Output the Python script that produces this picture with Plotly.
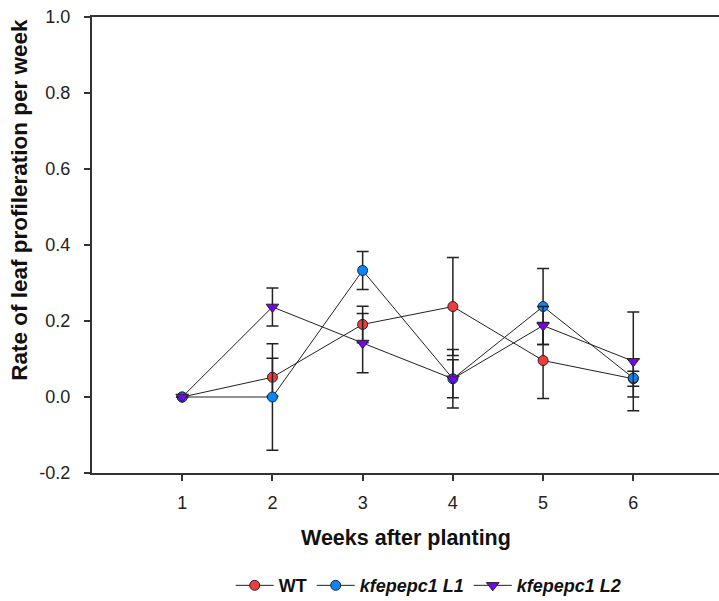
import plotly.graph_objects as go

weeks = [1, 2, 3, 4, 5, 6]
wt = [0.0, 0.052, 0.191, 0.238, 0.096, 0.048]
wt_err = [0.0, 0.05, 0.048, 0.129, 0.10, 0.02]
l1 = [0.0, 0.0, 0.333, 0.048, 0.238, 0.05]
l1_err = [0.0, 0.14, 0.05, 0.077, 0.10, 0.05]
l2 = [0.0, 0.237, 0.142, 0.048, 0.188, 0.094]
l2_err = [0.0, 0.05, 0.078, 0.05, 0.05, 0.13]

y_ticks = [-0.2, 0.0, 0.2, 0.4, 0.6, 0.8, 1.0]
y_tick_labels = ["-0.2", "0.0", "0.2", "0.4", "0.6", "0.8", "1.0"]
x_ticks = [1, 2, 3, 4, 5, 6]

names = ["<b>WT</b>", "<b><i>kfepepc1 L1</i></b>", "<b><i>kfepepc1 L2</i></b>"]
colors = ["#f03c3c", "#0a84ff", "#7a00f0"]
symbols = ["circle", "circle", "triangle-down"]
series = [(wt, wt_err), (l1, l1_err), (l2, l2_err)]

FONT = "Liberation Sans, Arial, sans-serif"

fig = go.Figure()
for (vals, errs), name, col, sym in zip(series, names, colors, symbols):
    fig.add_trace(go.Scatter(
        x=weeks, y=vals, name=name, mode="lines+markers",
        line=dict(color="#222222", width=1),
        marker=dict(color=col, size=10 if sym == "circle" else 11, symbol=sym,
                    line=dict(color="#222222", width=1)),
        error_y=dict(type="data", array=errs, visible=True, color="#222222",
                     thickness=1.5, width=6),
    ))

fig.update_layout(
    width=719, height=601,
    margin=dict(l=92, r=0, t=17, b=128, autoexpand=False),
    paper_bgcolor="white", plot_bgcolor="white",
    font=dict(family=FONT, color="#222222", size=18),
    showlegend=True,
    legend=dict(orientation="h", x=0.537, xanchor="center", y=-0.247, yanchor="middle",
                font=dict(family=FONT, size=18, color="#111111"),
                itemwidth=38, tracegroupgap=0, bgcolor="rgba(0,0,0,0)"),
    xaxis=dict(range=[0, 6.95], tickvals=x_ticks, ticktext=[str(v) for v in x_ticks],
               showline=True, linecolor="#333333", linewidth=2, mirror=True,
               ticks="outside", ticklen=6, tickwidth=1.5, tickcolor="#333333",
               ticklabelstandoff=6,
               showgrid=False, zeroline=False, tickfont=dict(size=18)),
    yaxis=dict(range=[-0.2, 1.0], tickvals=y_ticks, ticktext=y_tick_labels,
               showline=True, linecolor="#333333", linewidth=2,
               ticks="outside", ticklen=6, tickwidth=1.5, tickcolor="#333333",
               ticklabelstandoff=10,
               showgrid=False, zeroline=False, tickfont=dict(size=18)),
    annotations=[
        dict(text="<b>Weeks after planting</b>", xref="paper", yref="paper",
             x=0.5, y=-0.142, xanchor="center", yanchor="middle", showarrow=False,
             font=dict(family=FONT, size=21.5, color="#111111")),
        dict(text="<b>Rate of leaf profileration per week</b>", xref="paper", yref="paper",
             x=-0.115, y=0.599, xanchor="center", yanchor="middle", showarrow=False,
             textangle=-90, font=dict(family=FONT, size=22.5, color="#111111")),
    ],
)

fig.write_html("out.html")
